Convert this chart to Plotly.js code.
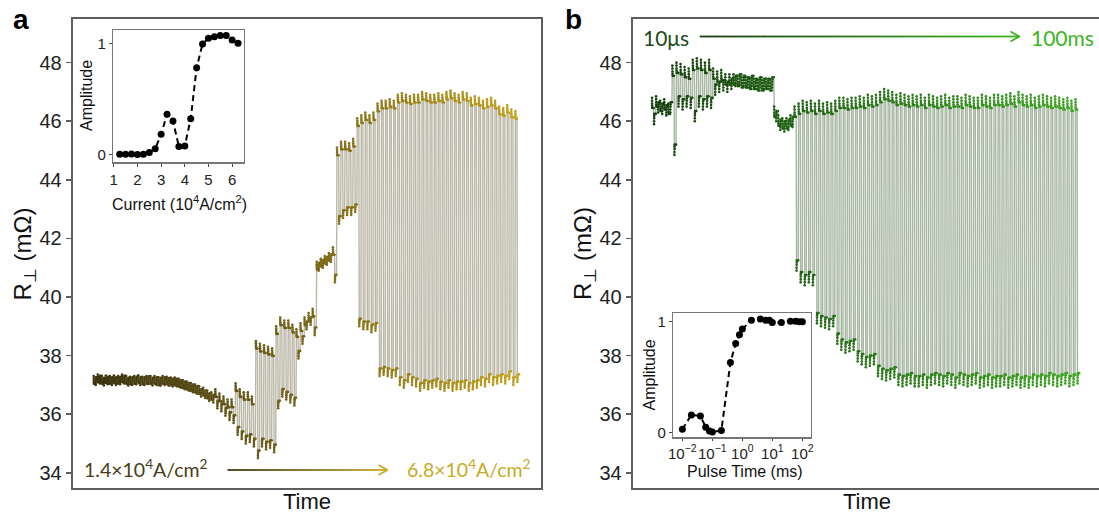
<!DOCTYPE html>
<html><head><meta charset="utf-8">
<script src="https://cdn.plot.ly/plotly-3.0.1.min.js"></script>
<style>html,body{margin:0;padding:0;background:#fff}#chart{width:1099px;height:515px}</style>
</head><body><div id="chart"></div>
<script>
// ---------------- DATA ----------------
// inset a: switching amplitude vs current density (10^4 A/cm^2)
const currentDensity = [1.25,1.5,1.75,2.0,2.25,2.5,2.75,3.0,3.25,3.5,3.75,4.0,4.25,4.5,4.75,5.0,5.25,5.5,5.75,6.0,6.25];
const amplitudeA = [0,0,0.003,-0.003,0,0.015,0.05,0.18,0.36,0.30,0.07,0.075,0.32,0.78,0.995,1.045,1.06,1.07,1.07,1.03,1.0];
// inset b: switching amplitude vs pulse time (ms)
const pulseTime = [0.01,0.02,0.04,0.06,0.08,0.1,0.2,0.4,0.6,0.8,1,2,4,6,8,10,20,40,60,80,100];
const amplitudeB = [0.03,0.16,0.15,0.05,0.015,0.006,0.02,0.63,0.80,0.88,0.93,1.01,1.02,1.01,1.01,0.99,0.99,1.0,1.0,0.995,0.995];

// panel a: R_perp (mOhm) high / low state of each pulse pair, one row per current step
const highA = [
 [37.3,37.35,37.3,37.32,37.3],[37.32,37.3,37.35,37.3,37.28],[37.3,37.33,37.28,37.3,37.3],
 [37.3,37.25,37.3,37.28,37.25],[37.25,37.2,37.15,37.1,37.05],[37.0,36.95,36.9,36.8,36.75],
 [36.85,36.7,36.6,36.5,36.5],[37.05,36.85,36.75,36.75,36.6],[38.5,38.4,38.35,38.3,38.25],
 [39.0,39.3,39.2,39.2,39.05],[38.9,39.1,39.3,39.45,39.6],[41.2,41.3,41.4,41.5,41.7],
 [45.1,45.3,45.3,45.25,45.4],[46.1,46.2,46.3,46.2,46.3],[46.6,46.7,46.7,46.75,46.7],
 [46.9,46.95,46.9,46.85,46.9],[46.9,47.0,46.95,46.9,46.9],[46.95,46.9,47.0,47.05,46.95],
 [46.9,47.0,46.95,46.8,46.85],[46.8,46.7,46.75,46.8,46.7],[46.5,46.45,46.55,46.4,46.35]
];
const lowA = [
 [37.0,37.05,36.98,37.02,37.0],[37.0,37.02,37.05,36.98,37.0],[37.02,37.0,37.0,37.03,36.98],
 [37.0,36.98,37.0,36.97,36.95],[36.95,36.9,36.85,36.8,36.75],[36.7,36.6,36.55,36.45,36.4],
 [36.2,36.1,35.95,35.8,35.7],[35.3,35.15,35.0,35.05,34.9],[34.5,34.9,34.8,34.85,34.7],
 [36.2,36.6,36.5,36.4,36.3],[37.9,38.4,38.9,39.05,38.7],[40.9,41.0,41.1,41.2,40.5],
 [42.5,42.7,42.8,42.8,42.9],[39.0,38.9,38.9,38.8,38.85],[37.3,37.35,37.3,37.25,37.3],
 [37.0,36.9,37.1,37.0,36.95],[36.8,36.9,36.85,36.9,36.95],[36.85,36.8,36.9,36.8,36.85],
 [36.85,36.9,36.8,36.85,36.9],[37.0,36.95,37.1,37.0,37.05],[37.1,37.05,37.2,37.0,37.1]
];
// panel b: one row per pulse-time step
const highB = [
 [46.8,46.85,46.7,46.75,46.6],[47.9,48.0,47.95,47.85,47.8],[48.1,48.15,48.1,48.0,48.1],
 [47.8,47.7,47.75,47.6,47.6],[47.6,47.55,47.5,47.5,47.45],[47.45,47.4,47.4,47.45,47.4],
 [46.5,46.2,46.1,46.1,46.2],[46.5,46.6,46.7,46.65,46.7],[46.6,46.7,46.6,46.65,46.6],
 [46.7,46.8,46.8,46.75,46.8],[46.8,46.85,46.8,46.9,46.85],[46.9,47.0,47.1,47.05,47.0],
 [46.9,46.95,46.9,46.85,46.9],[46.85,46.9,46.8,46.9,46.85],[46.8,46.85,46.9,46.8,46.85],
 [46.85,46.8,46.9,46.85,46.8],[46.8,46.9,46.85,46.8,46.9],[46.9,46.85,46.9,46.95,46.85],
 [47.0,46.9,46.85,46.9,46.8],[46.85,46.9,46.85,46.8,46.85],[46.8,46.75,46.8,46.7,46.75]
];
const lowB = [
 [45.9,46.3,46.25,46.2,46.3],[44.85,46.5,46.4,46.5,46.45],[46.0,46.5,46.4,46.5,46.45],
 [46.9,47.0,47.05,47.0,47.1],[47.2,47.25,47.2,47.15,47.2],[47.1,47.15,47.1,47.1,47.15],
 [46.0,45.7,45.65,45.7,45.8],[40.9,40.5,40.4,40.5,40.4],[39.1,39.0,38.95,38.9,39.0],
 [38.4,38.2,38.1,38.15,38.2],[37.8,37.7,37.6,37.65,37.7],[37.3,37.2,37.15,37.2,37.25],
 [37.0,36.95,37.0,37.05,36.95],[36.95,37.0,36.9,37.0,37.05],[37.0,36.95,37.05,37.0,36.9],
 [37.05,37.0,36.95,37.0,37.05],[36.9,36.95,37.0,36.9,36.95],[36.95,37.0,36.9,36.95,37.0],
 [36.9,36.95,36.9,37.0,36.95],[37.0,36.95,37.05,37.0,36.95],[37.0,37.05,36.95,37.0,37.05]
];
// relaxation inside each state after switching (mOhm)
const relaxA = [0,0.08,0.15,0.21,0.26];
const relaxB = [0,0.1,0.2,0.28,0.35];
const yTicks = [34,36,38,40,42,44,46,48];
const logTicks = [0.01,0.1,1,10,100];
const logTickText = ['10<sup>−2</sup>','10<sup>−1</sup>','10<sup>0</sup>','10<sup>1</sup>','10<sup>2</sup>'];

// ---------------- BUILD ----------------
function buildSeries(hi, lo, relax){
  const x=[], y=[];
  const m=relax.length;
  hi.forEach((row,b)=>{
    const n=row.length;
    for(let c=0;c<n;c++){
      [[2*c,row[c],-1],[2*c+1,lo[b][c],1]].forEach(([s,v,d])=>{
        for(let k=0;k<m;k++){ x.push(b+(s+0.12*k/(m-1))/(2*n)); y.push(v+d*relax[k]); }
        x.push(b+(s+0.8)/(2*n)); y.push(v+d*relax[m-1]);
      });
    }
  });
  return {x,y};
}
const sA = buildSeries(highA, lowA, relaxA);
const sB = buildSeries(highB, lowB, relaxB);

const W=1099,H=515;
const px=v=>v/W, py=v=>1-v/H;

const traces = [
 {x:sA.x,y:sA.y,xaxis:'x',yaxis:'y',mode:'lines',hoverinfo:'skip',line:{color:'#bab7a6',width:1.4}},
 {x:sA.x,y:sA.y,xaxis:'x',yaxis:'y',mode:'markers',hoverinfo:'skip',
  marker:{size:2.6,color:sA.x,cmin:0,cmax:21,colorscale:[[0,'#3b3311'],[0.5,'#77661a'],[1,'#c4a41c']],line:{width:0}}},
 {x:sB.x,y:sB.y,xaxis:'x2',yaxis:'y2',mode:'lines',hoverinfo:'skip',line:{color:'#a6b6a1',width:1.4}},
 {x:sB.x,y:sB.y,xaxis:'x2',yaxis:'y2',mode:'markers',hoverinfo:'skip',
  marker:{size:2.6,color:sB.x,cmin:0,cmax:21,colorscale:[[0,'#173f10'],[0.5,'#287518'],[1,'#3aa81e']],line:{width:0}}},
 {x:currentDensity,y:amplitudeA,xaxis:'x3',yaxis:'y3',mode:'lines+markers',
  line:{color:'#000',width:2,dash:'6px,4px'},marker:{color:'#000',size:7}},
 {x:pulseTime,y:amplitudeB,xaxis:'x4',yaxis:'y4',mode:'lines+markers',
  line:{color:'#000',width:2,dash:'6px,4px'},marker:{color:'#000',size:7}}
];

const fam='Liberation Sans, Arial, sans-serif';
const frame = {showline:true,linecolor:'#5e5e5e',linewidth:2,zeroline:false,showgrid:false};
const insetFrame = {showline:true,linecolor:'#777',linewidth:1.5,mirror:true,zeroline:false,showgrid:false,
  ticks:'outside',ticklen:3,tickwidth:1,tickcolor:'#444',tickangle:0,tickfont:{size:15,color:'#222',family:fam}};
const yMain = Object.assign({},frame,{range:[33.49,49.49],domain:[0.05301,0.96311],tickvals:yTicks,ticks:'outside',ticklen:5,tickwidth:1.5,tickcolor:'#5e5e5e',
  tickfont:{size:20,color:'#222',family:fam}});

const layout = {
  width:W,height:H,margin:{l:0,r:0,t:0,b:0},paper_bgcolor:'#fff',plot_bgcolor:'rgba(0,0,0,0)',showlegend:false,
  font:{family:fam,color:'#111'},
  xaxis:Object.assign({},frame,{domain:[0.06615,0.49199],range:[-1.036,22.05],mirror:true,showticklabels:false,ticks:''}),
  yaxis:Object.assign({},yMain,{anchor:'x',mirror:true}),
  xaxis2:Object.assign({},frame,{domain:[0.57571,1],range:[-0.948,21.955],mirror:true,showticklabels:false,ticks:'',anchor:'y2'}),
  yaxis2:Object.assign({},yMain,{anchor:'x2',mirror:false}),
  xaxis3:Object.assign({},insetFrame,{domain:[0.1031,0.2220],range:[0.98,6.5],tickvals:[1,2,3,4,5,6],anchor:'y3'}),
  yaxis3:Object.assign({},insetFrame,{domain:[0.6854,0.9417],range:[-0.07,1.12],tickvals:[0,1],anchor:'x3'}),
  xaxis4:Object.assign({},insetFrame,{type:'log',domain:[0.6127,0.7377],range:[-2.3,2.28],tickvals:logTicks,ticktext:logTickText,anchor:'y4',ticklen:2,tickfont:{size:15,color:'#222',family:fam}}),
  yaxis4:Object.assign({},insetFrame,{domain:[0.1509,0.3917],range:[-0.041,1.072],tickvals:[0,1],anchor:'x4'}),
  annotations:[],shapes:[]
};
const ann = (t,x,y,o)=>layout.annotations.push(Object.assign({text:t,x:px(x),y:py(y),xref:'paper',yref:'paper',showarrow:false,xanchor:'center',yanchor:'middle'},o||{}));
const f = (s,c,fm)=>({size:s,color:c||'#111',family:fm||fam});

ann('<b>a</b>',11,20,{xanchor:'left',font:f(28,'#000')});
ann('<b>b</b>',563,20,{xanchor:'left',font:f(28,'#000')});
ann('R<sub>⊥</sub> (mΩ)',23.5,254,{textangle:-90,font:f(24)});
ann('R<sub>⊥</sub> (mΩ)',584,254,{textangle:-90,font:f(24)});
ann('Time',306.7,501,{font:f(22)});
ann('Time',866.5,501,{font:f(22)});
ann('Amplitude',86,96,{textangle:-90,font:f(16)});
ann('Current (10<sup>4</sup>A/cm<sup>2</sup>)',179.5,203,{font:f(16)});
ann('Amplitude',648.5,375,{textangle:-90,font:f(16)});
ann('Pulse Time (ms)',745,471,{font:f(16)});
const calib = 'Lato, Open Sans, sans-serif';
ann('1.4×10<sup>4</sup>A/cm<sup>2</sup>',82,468,{xanchor:'left',font:f(19.5,'#473d15',calib)});
ann('6.8×10<sup>4</sup>A/cm<sup>2</sup>',533,468,{xanchor:'right',font:f(19.5,'#c8aa22',calib)});
ann('10μs',641,37,{xanchor:'left',font:f(21,'#1f4a17',calib)});
ann('100ms',1096,37,{xanchor:'right',font:f(21,'#3cb521',calib)});

// gradient arrows
function mix(c1,c2,t){const a=parseInt(c1.slice(1),16),b=parseInt(c2.slice(1),16);
  const r=Math.round(((a>>16)&255)*(1-t)+((b>>16)&255)*t),g=Math.round(((a>>8)&255)*(1-t)+((b>>8)&255)*t),bl=Math.round((a&255)*(1-t)+(b&255)*t);
  return 'rgb('+r+','+g+','+bl+')';}
function arrow(x0,x1,y,c0,c1){
  const n=40;
  for(let i=0;i<n;i++){
    const xa=x0+(x1-x0)*i/n, xb=x0+(x1-x0)*(i+1)/n;
    layout.shapes.push({type:'line',xref:'paper',yref:'paper',x0:px(xa),x1:px(xb+0.3),y0:py(y),y1:py(y),line:{color:mix(c0,c1,i/(n-1)),width:1.8}});
  }
  [-1,1].forEach(s=>layout.shapes.push({type:'line',xref:'paper',yref:'paper',x0:px(x1-9),y0:py(y+5*s),x1:px(x1),y1:py(y),line:{color:c1,width:1.8}}));
}
arrow(227.5,387.5,470,'#3e3512','#c8aa22');
arrow(699.7,1019.4,36.5,'#173f10','#3cb521');

Plotly.newPlot('chart',traces,layout,{staticPlot:true,displayModeBar:false});
</script></body></html>
